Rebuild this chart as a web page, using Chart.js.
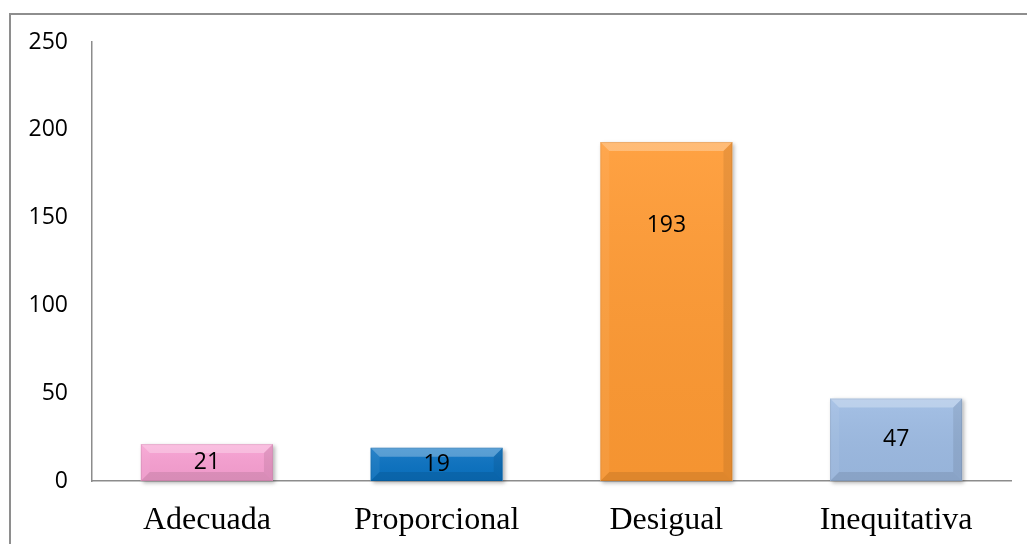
<!DOCTYPE html>
<html>
<head>
<meta charset="utf-8">
<script src="https://cdn.jsdelivr.net/npm/chart.js@4.4.1/dist/chart.umd.min.js"></script>
<style>
  html, body { margin: 0; padding: 0; background: #fff; }
  #wrap { position: relative; width: 1027px; height: 544px; overflow: hidden; }
  #frame { position: absolute; left: 9px; top: 13px; width: 1100px; height: 600px; border: 2px solid #8e8e8e; box-sizing: border-box; }
  #cv { position: absolute; left: 0; top: 0; }
</style>
</head>
<body>
<div id="wrap">
  <div id="frame"></div>
  <canvas id="cv" width="1027" height="544"></canvas>
</div>
<script>
const categories = ["Adecuada", "Proporcional", "Desigual", "Inequitativa"];
const values = [21, 19, 193, 47];
const barColors = ["#F8A0D2", "#0A72C2", "#FF9A33", "#9DBBE3"];
const yTicks = [0, 50, 100, 150, 200, 250];

const bevelPlugin = {
  id: 'bevel',
  beforeDatasetsDraw(chart) {
    const ctx = chart.ctx;
    const meta = chart.getDatasetMeta(0);
    ctx.save();
    meta.data.forEach((bar) => {
      const x0 = bar.x - bar.width / 2, x1 = bar.x + bar.width / 2;
      const y0 = bar.y, y1 = bar.base;
      ctx.shadowColor = 'rgba(0,0,0,0.3)';
      ctx.shadowBlur = 4;
      ctx.shadowOffsetX = 2;
      ctx.shadowOffsetY = 2;
      ctx.fillStyle = '#ffffff';
      ctx.fillRect(x0, y0, x1 - x0, y1 - y0);
    });
    ctx.restore();
  },
  afterDatasetsDraw(chart) {
    const ctx = chart.ctx;
    const meta = chart.getDatasetMeta(0);
    ctx.save();
    meta.data.forEach((bar) => {
      const x0 = bar.x - bar.width / 2, x1 = bar.x + bar.width / 2;
      const y0 = bar.y, y1 = bar.base;
      const b = Math.min(9, (y1 - y0) / 2.2);
      const g = ctx.createLinearGradient(0, y0, 0, y1);
      g.addColorStop(0, 'rgba(255,255,255,0.08)');
      g.addColorStop(1, 'rgba(0,0,0,0.04)');
      ctx.fillStyle = g;
      ctx.fillRect(x0, y0, x1 - x0, y1 - y0);
      // top bevel
      ctx.beginPath();
      ctx.moveTo(x0, y0); ctx.lineTo(x1, y0); ctx.lineTo(x1 - b, y0 + b); ctx.lineTo(x0 + b, y0 + b); ctx.closePath();
      ctx.fillStyle = 'rgba(255,255,255,0.28)';
      ctx.fill();
      // left bevel
      ctx.beginPath();
      ctx.moveTo(x0, y0); ctx.lineTo(x0 + b, y0 + b); ctx.lineTo(x0 + b, y1 - b); ctx.lineTo(x0, y1); ctx.closePath();
      ctx.fillStyle = 'rgba(255,255,255,0.06)';
      ctx.fill();
      // right bevel
      ctx.beginPath();
      ctx.moveTo(x1, y0); ctx.lineTo(x1 - b, y0 + b); ctx.lineTo(x1 - b, y1 - b); ctx.lineTo(x1, y1); ctx.closePath();
      ctx.fillStyle = 'rgba(0,0,0,0.08)';
      ctx.fill();
      // bottom bevel
      ctx.beginPath();
      ctx.moveTo(x0, y1); ctx.lineTo(x0 + b, y1 - b); ctx.lineTo(x1 - b, y1 - b); ctx.lineTo(x1, y1); ctx.closePath();
      ctx.fillStyle = 'rgba(0,0,0,0.09)';
      ctx.fill();
      ctx.strokeStyle = 'rgba(0,0,0,0.08)';
      ctx.lineWidth = 1;
      ctx.strokeRect(x0 + 0.5, y0 + 0.5, x1 - x0 - 1, y1 - y0 - 1);
    });
    ctx.fillStyle = '#000';
    ctx.font = '23px "Open Sans", sans-serif';
    ctx.textAlign = 'center';
    ctx.textBaseline = 'middle';
    meta.data.forEach((bar, i) => {
      const center = (bar.y + bar.base) / 2;
      const y = Math.min(center, bar.y + 83);
      ctx.fillText(String(values[i]), bar.x, y);
    });
    ctx.restore();
  }
};

new Chart(document.getElementById('cv'), {
  type: 'bar',
  data: {
    labels: categories,
    datasets: [{
      data: values,
      backgroundColor: barColors,
      borderWidth: 0,
      barPercentage: 0.575,
      categoryPercentage: 1.0
    }]
  },
  options: {
    responsive: false,
    animation: false,
    events: [],
    layout: { padding: { left: 0, right: 16, top: 42, bottom: 0 } },
    plugins: { legend: { display: false }, tooltip: { enabled: false } },
    scales: {
      x: {
        grid: { display: false, drawTicks: false },
        border: { display: true, color: '#8c8c8c', width: 1.5 },
        ticks: { color: '#000', font: { family: '"Liberation Serif", "Times New Roman", serif', size: 32 }, padding: 20, maxRotation: 0 },
        afterFit(scale) { scale.height = 63; }
      },
      y: {
        min: 0, max: 250,
        afterBuildTicks(scale) { scale.ticks = yTicks.map(v => ({ value: v })); },
        grid: { display: false, drawTicks: false },
        border: { display: true, color: '#8c8c8c', width: 1.5 },
        ticks: { color: '#000', font: { family: '"Open Sans", sans-serif', size: 23 }, padding: 24 },
        afterFit(scale) { scale.width = 92; }
      }
    }
  },
  plugins: [bevelPlugin]
});
</script>
</body>
</html>
